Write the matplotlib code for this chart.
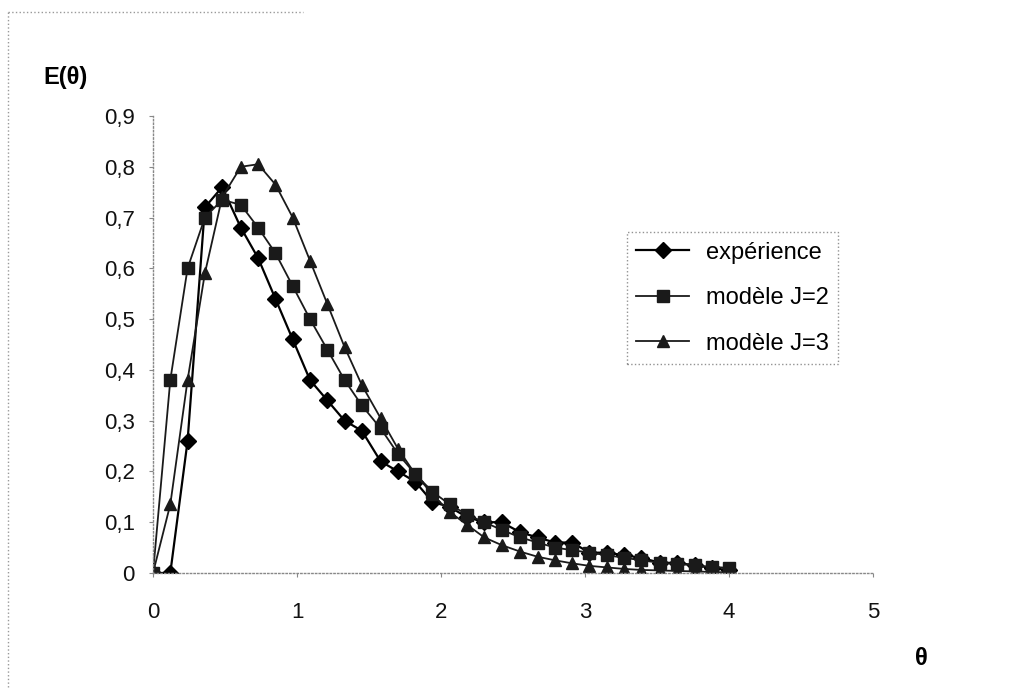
import matplotlib
matplotlib.use('Agg')
import matplotlib.pyplot as plt
from matplotlib.ticker import FuncFormatter, MultipleLocator
from matplotlib.lines import Line2D

# Donnees
theta = [0.00, 0.12, 0.24, 0.36, 0.48, 0.61, 0.73, 0.85, 0.97, 1.09,
         1.21, 1.33, 1.45, 1.58, 1.70, 1.82, 1.94, 2.06, 2.18, 2.30,
         2.42, 2.55, 2.67, 2.79, 2.91, 3.03, 3.15, 3.27, 3.39, 3.52,
         3.64, 3.76, 3.88, 4.00]

experience = [0, 0, 0.26, 0.72, 0.76, 0.68, 0.62, 0.54, 0.46, 0.38,
              0.34, 0.30, 0.28, 0.22, 0.20, 0.18, 0.14, 0.13, 0.11, 0.10,
              0.10, 0.08, 0.07, 0.06, 0.06, 0.04, 0.04, 0.035, 0.03, 0.02,
              0.02, 0.015, 0.01, 0.005]

modele_j2 = [0, 0.38, 0.60, 0.70, 0.735, 0.725, 0.68, 0.63, 0.565, 0.50,
             0.44, 0.38, 0.33, 0.285, 0.235, 0.195, 0.16, 0.135, 0.115, 0.10,
             0.085, 0.07, 0.06, 0.05, 0.045, 0.04, 0.035, 0.03, 0.025, 0.02,
             0.018, 0.015, 0.012, 0.01]

modele_j3 = [0, 0.135, 0.38, 0.59, 0.74, 0.80, 0.805, 0.765, 0.70, 0.615,
             0.53, 0.445, 0.37, 0.305, 0.245, 0.195, 0.155, 0.12, 0.095, 0.07,
             0.055, 0.042, 0.032, 0.025, 0.019, 0.014, 0.011, 0.008, 0.006, 0.005,
             0.004, 0.003, 0.002, 0.001]

labels = ['expérience', 'modèle J=2', 'modèle J=3']

plt.rcParams['font.family'] = ['Liberation Sans', 'DejaVu Sans']

fig = plt.figure(figsize=(10.1, 6.9), dpi=100)
ax = fig.add_axes([0.1515, 0.1696, 0.713, 0.6623])

ax.plot(theta, experience, '-', color='black', lw=1.6, marker='D', ms=8,
        label=labels[0])
ax.plot(theta, modele_j2, '-', color='#1a1a1a', lw=1.3, marker='s', ms=8,
        label=labels[1])
ax.plot(theta, modele_j3, '-', color='#1a1a1a', lw=1.3, marker='^', ms=9,
        label=labels[2])

ax.set_xlim(0, 5)
ax.set_ylim(0, 0.9)
ax.xaxis.set_major_locator(MultipleLocator(1))
ax.yaxis.set_major_locator(MultipleLocator(0.1))

virgule = FuncFormatter(lambda v, p: ('%.1f' % v).replace('.', ',') if abs(v) > 1e-9 else '0')
ax.yaxis.set_major_formatter(virgule)
ax.xaxis.set_major_formatter(FuncFormatter(lambda v, p: '%d' % round(v)))

for s in ['top', 'right']:
    ax.spines[s].set_visible(False)
for s in ['left', 'bottom']:
    ax.spines[s].set_linestyle(':')
    ax.spines[s].set_color('#888888')
    ax.spines[s].set_linewidth(1)

ax.tick_params(axis='y', length=3, color='#888888', labelsize=16, pad=10)
ax.tick_params(axis='x', length=3, color='#888888', labelsize=16, pad=18)
for lab in ax.get_xticklabels() + ax.get_yticklabels():
    lab.set_color('#111111')

fig.text(0.043, 0.887, 'E(θ)', fontsize=17, fontweight='bold', va='center', ha='left')
fig.text(0.912, 0.045, 'θ', fontsize=17, fontweight='bold', va='center', ha='center')

leg = ax.legend(loc='upper left', bbox_to_anchor=(0.658, 0.746), fontsize=17,
                frameon=True, fancybox=False, handlelength=2.25, handletextpad=0.7,
                labelspacing=1.0, borderpad=0.4, borderaxespad=0)
leg.get_frame().set_linestyle(':')
leg.get_frame().set_edgecolor('#777777')
leg.get_frame().set_linewidth(1)

# cadre pointille exterieur (haut et gauche)
fig.add_artist(Line2D([0.008, 0.30], [0.983, 0.983], transform=fig.transFigure,
                      color='#999999', lw=1, ls=':'))
fig.add_artist(Line2D([0.008, 0.008], [0.005, 0.983], transform=fig.transFigure,
                      color='#999999', lw=1, ls=':'))

fig.savefig('out.png', dpi=100)
